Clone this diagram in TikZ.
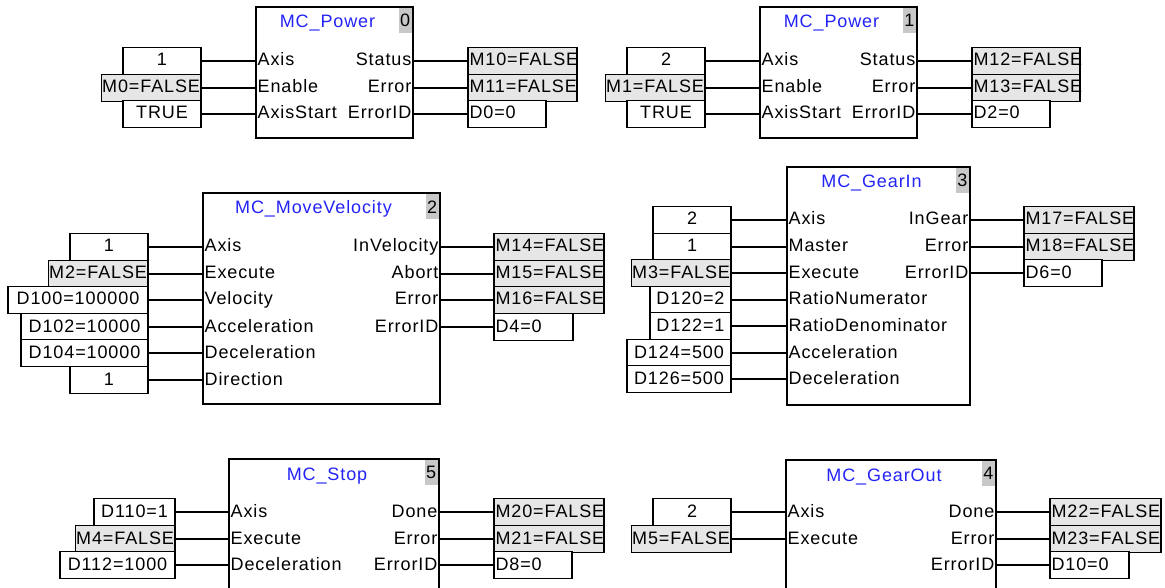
\documentclass[tikz,border=0pt]{standalone}
\usepackage{fontspec}
\setmainfont{Liberation Sans}[LetterSpace=5]
\usepackage{tikz}
\usetikzlibrary{calc}
\definecolor{fbblue}{HTML}{2323F5}
\definecolor{valgray}{HTML}{E6E6E6}
\definecolor{numgray}{HTML}{C8C8C8}

\begin{document}
\begin{tikzpicture}[x=1pt,y=-1pt,line width=1.3pt,font=\fontsize{18}{21}\selectfont]
\tikzset{fb/.style={draw,anchor=north west,outer sep=0pt},
  fbtitle/.style={text=fbblue,inner sep=0pt,text height=13pt,text depth=3pt},
  fbnum/.style={anchor=north east,fill=numgray,minimum width=13pt,minimum height=25pt,inner sep=0pt},
  pinl/.style={anchor=west,inner sep=1pt,text height=13pt,text depth=3pt},
  pinr/.style={anchor=east,inner sep=1pt,text height=13pt,text depth=3pt},
  inval/.style={draw,anchor=east,minimum height=26.5pt,inner sep=1pt,text height=13pt,text depth=3pt,outer sep=0pt},
  outval/.style={draw,anchor=west,minimum height=26.5pt,inner sep=1.5pt,text height=13pt,text depth=3pt,align=left,outer sep=0pt}}
\useasboundingbox (0,0) rectangle (1165,588);
\clip (0,0) rectangle (1165,588);

% MC_Power 0
\node[fb,minimum width=157pt,minimum height=131pt] (pw0) at (256,7) {};
\node[fbtitle] (pw0t) at ([xshift=-7pt,yshift=-16pt]pw0.north) {MC\_Power};
\node[fbnum] (pw0n) at ([shift={(-0.6pt,-0.6pt)}]pw0.north east) {0};
\foreach \p/\v/\w/\f [count=\i] in {Axis/1/78pt/white,Enable/M0=FALSE/98pt/valgray,AxisStart/TRUE/78pt/white}{
  \node[pinl] (pw0i\i) at (256,{round(61+26.5*(\i-1))}) {\p};
  \node[inval,minimum width=\w,fill=\f] (pw0v\i) at (201,{round(61+26.5*(\i-1))}) {\v};
  \draw (pw0v\i.east) -- (pw0i\i.west);
}
\foreach \p/\v/\w/\f [count=\i] in {Status/M10=FALSE/106pt/valgray,Error/M11=FALSE/106pt/valgray,ErrorID/D0=0/75pt/white}{
  \node[pinr] (pw0o\i) at (413,{round(61+26.5*(\i-1))}) {\p};
  \node[outval,text width=\w,fill=\f] (pw0w\i) at (468,{round(61+26.5*(\i-1))}) {\v};
  \draw (pw0o\i.east) -- (pw0w\i.west);
}

% MC_Power 1
\node[fb,minimum width=157pt,minimum height=131pt] (pw1) at (760,7) {};
\node[fbtitle] (pw1t) at ([xshift=-7pt,yshift=-16pt]pw1.north) {MC\_Power};
\node[fbnum] (pw1n) at ([shift={(-0.6pt,-0.6pt)}]pw1.north east) {1};
\foreach \p/\v/\w/\f [count=\i] in {Axis/2/78pt/white,Enable/M1=FALSE/98pt/valgray,AxisStart/TRUE/78pt/white}{
  \node[pinl] (pw1i\i) at (760,{round(61+26.5*(\i-1))}) {\p};
  \node[inval,minimum width=\w,fill=\f] (pw1v\i) at (705,{round(61+26.5*(\i-1))}) {\v};
  \draw (pw1v\i.east) -- (pw1i\i.west);
}
\foreach \p/\v/\w/\f [count=\i] in {Status/M12=FALSE/105pt/valgray,Error/M13=FALSE/105pt/valgray,ErrorID/D2=0/75pt/white}{
  \node[pinr] (pw1o\i) at (917,{round(61+26.5*(\i-1))}) {\p};
  \node[outval,text width=\w,fill=\f] (pw1w\i) at (972,{round(61+26.5*(\i-1))}) {\v};
  \draw (pw1o\i.east) -- (pw1w\i.west);
}

% MC_MoveVelocity
\node[fb,minimum width=237pt,minimum height=211pt] (mv) at (203,193) {};
\node[fbtitle] (mvt) at ([xshift=-8pt,yshift=-16pt]mv.north) {MC\_MoveVelocity};
\node[fbnum] (mvn) at ([shift={(-0.6pt,-0.6pt)}]mv.north east) {2};
\foreach \p/\v/\w/\f [count=\i] in {Axis/1/78pt/white,Execute/M2=FALSE/97pt/valgray,Velocity/D100=100000/140pt/white,Acceleration/D102=10000/127pt/white,Deceleration/D104=10000/127pt/white,Direction/1/78pt/white}{
  \node[pinl] (mvi\i) at (203,{round(247+26.5*(\i-1))}) {\p};
  \node[inval,minimum width=\w,fill=\f] (mvv\i) at (148,{round(247+26.5*(\i-1))}) {\v};
  \draw (mvv\i.east) -- (mvi\i.west);
}
\foreach \p/\v/\w/\f [count=\i] in {InVelocity/M14=FALSE/107pt/valgray,Abort/M15=FALSE/107pt/valgray,Error/M16=FALSE/107pt/valgray,ErrorID/D4=0/76pt/white}{
  \node[pinr] (mvo\i) at (440,{round(247+26.5*(\i-1))}) {\p};
  \node[outval,text width=\w,fill=\f] (mvw\i) at (494,{round(247+26.5*(\i-1))}) {\v};
  \draw (mvo\i.east) -- (mvw\i.west);
}

% MC_GearIn
\node[fb,minimum width=183pt,minimum height=238pt] (gi) at (787,167) {};
\node[fbtitle] (git) at ([xshift=-7pt,yshift=-16pt]gi.north) {MC\_GearIn};
\node[fbnum] (gin) at ([shift={(-0.6pt,-0.6pt)}]gi.north east) {3};
\foreach \p/\v/\w/\f [count=\i] in {Axis/2/78pt/white,Master/1/78pt/white,Execute/M3=FALSE/98pt/valgray,RatioNumerator/D120=2/81pt/white,RatioDenominator/D122=1/81pt/white,Acceleration/D124=500/104pt/white,Deceleration/D126=500/104pt/white}{
  \node[pinl] (gii\i) at (787,{round(220+26.5*(\i-1))}) {\p};
  \node[inval,minimum width=\w,fill=\f] (giv\i) at (731,{round(220+26.5*(\i-1))}) {\v};
  \draw (giv\i.east) -- (gii\i.west);
}
\foreach \p/\v/\w/\f [count=\i] in {InGear/M17=FALSE/107pt/valgray,Error/M18=FALSE/107pt/valgray,ErrorID/D6=0/75pt/white}{
  \node[pinr] (gio\i) at (970,{round(220+26.5*(\i-1))}) {\p};
  \node[outval,text width=\w,fill=\f] (giw\i) at (1024,{round(220+26.5*(\i-1))}) {\v};
  \draw (gio\i.east) -- (giw\i.west);
}

% MC_Stop
\node[fb,minimum width=210pt,minimum height=150pt] (st) at (229,459) {};
\node[fbtitle] (stt) at ([xshift=-7pt,yshift=-16pt]st.north) {MC\_Stop};
\node[fbnum] (stn) at ([shift={(-0.6pt,-0.6pt)}]st.north east) {5};
\foreach \p/\v/\w/\f [count=\i] in {Axis/D110=1/81pt/white,Execute/M4=FALSE/97pt/valgray,Deceleration/D112=1000/115pt/white}{
  \node[pinl] (sti\i) at (229,{round(512+26.5*(\i-1))}) {\p};
  \node[inval,minimum width=\w,fill=\f] (stv\i) at (175,{round(512+26.5*(\i-1))}) {\v};
  \draw (stv\i.east) -- (sti\i.west);
}
\foreach \p/\v/\w/\f [count=\i] in {Done/M20=FALSE/107pt/valgray,Error/M21=FALSE/107pt/valgray,ErrorID/D8=0/75pt/white}{
  \node[pinr] (sto\i) at (439,{round(512+26.5*(\i-1))}) {\p};
  \node[outval,text width=\w,fill=\f] (stw\i) at (494,{round(512+26.5*(\i-1))}) {\v};
  \draw (sto\i.east) -- (stw\i.west);
}

% MC_GearOut
\node[fb,minimum width=210pt,minimum height=150pt] (go) at (786,460) {};
\node[fbtitle] (got) at ([xshift=-7pt,yshift=-16pt]go.north) {MC\_GearOut};
\node[fbnum] (gon) at ([shift={(-0.6pt,-0.6pt)}]go.north east) {4};
\foreach \p/\v/\w/\f [count=\i] in {Axis/2/78pt/white,Execute/M5=FALSE/98pt/valgray}{
  \node[pinl] (goi\i) at (786,{round(512+26.5*(\i-1))}) {\p};
  \node[inval,minimum width=\w,fill=\f] (gov\i) at (731,{round(512+26.5*(\i-1))}) {\v};
  \draw (gov\i.east) -- (goi\i.west);
}
\foreach \p/\v/\w/\f [count=\i] in {Done/M22=FALSE/108pt/valgray,Error/M23=FALSE/108pt/valgray,ErrorID/D10=0/76pt/white}{
  \node[pinr] (goo\i) at (996,{round(512+26.5*(\i-1))}) {\p};
  \node[outval,text width=\w,fill=\f] (gow\i) at (1050,{round(512+26.5*(\i-1))}) {\v};
  \draw (goo\i.east) -- (gow\i.west);
}
\end{tikzpicture}
\end{document}
